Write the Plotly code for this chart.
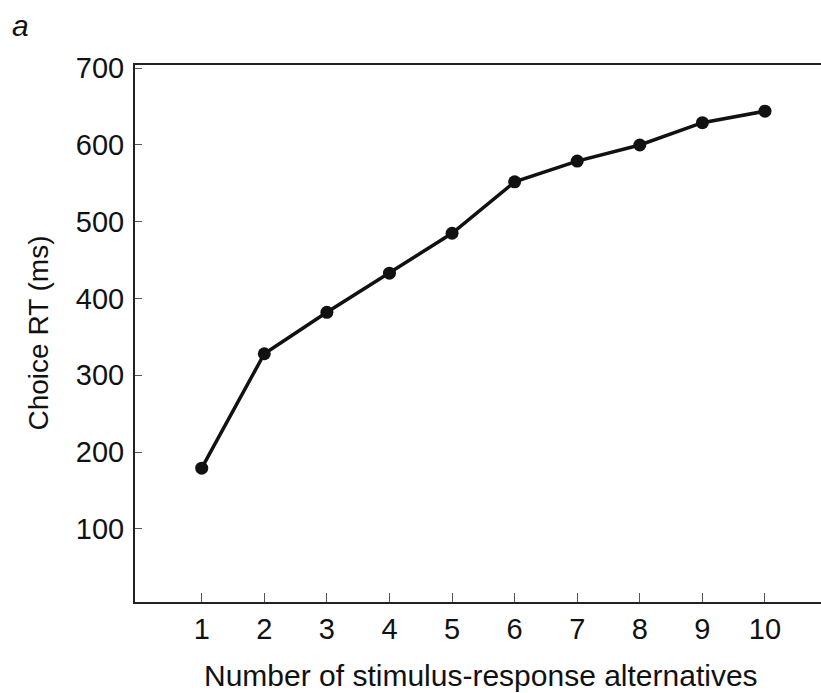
import plotly.graph_objects as go

alternatives = [1, 2, 3, 4, 5, 6, 7, 8, 9, 10]
choice_rt = [179, 328, 382, 433, 485, 552, 579, 600, 629, 644]
y_ticks = [100, 200, 300, 400, 500, 600, 700]

FONT = "Liberation Sans, Arial, sans-serif"

fig = go.Figure()
fig.add_trace(go.Scatter(
    x=alternatives, y=choice_rt, mode="lines+markers",
    line=dict(color="#111111", width=3.5),
    marker=dict(color="#111111", size=13, symbol="circle"),
    showlegend=False, cliponaxis=False,
))

fig.update_layout(
    width=821, height=693,
    margin=dict(l=135, r=0, t=65, b=91),
    paper_bgcolor="white", plot_bgcolor="white",
    font=dict(family=FONT, color="#111111"),
    xaxis=dict(
        range=[-0.066, 10.895], tickvals=alternatives,
        ticktext=[str(v) for v in alternatives],
        showgrid=False, zeroline=False,
        showline=True, linecolor="#222222", linewidth=2, mirror=True,
        ticks="inside", ticklen=9, tickwidth=1, tickcolor="#555555",
        tickfont=dict(size=29, family=FONT, color="#111111"),
    ),
    yaxis=dict(
        range=[4.6, 704.2], tickvals=y_ticks,
        showgrid=False, zeroline=False,
        showline=True, linecolor="#222222", linewidth=2, mirror=False,
        ticks="inside", ticklen=7, tickwidth=1, tickcolor="#555555",
        tickfont=dict(size=29, family=FONT, color="#111111"),
        ticklabelstandoff=3,
    ),
    annotations=[
        dict(text="Number of stimulus-response alternatives", xref="paper", yref="paper",
             x=0.504, y=0, xanchor="center", yanchor="middle", yshift=-73,
             showarrow=False, font=dict(size=30, family=FONT, color="#111111")),
        dict(text="Choice RT (ms)", xref="paper", yref="paper",
             x=0, y=0.5, xanchor="center", yanchor="middle", xshift=-97,
             textangle=-90, showarrow=False,
             font=dict(size=28, family=FONT, color="#111111")),
        dict(text="<i>a</i>", xref="paper", yref="paper",
             x=0, y=1, xanchor="center", yanchor="middle", xshift=-115, yshift=40,
             showarrow=False, font=dict(size=30, family=FONT, color="#111111")),
    ],
)

fig.write_html("out.html")
